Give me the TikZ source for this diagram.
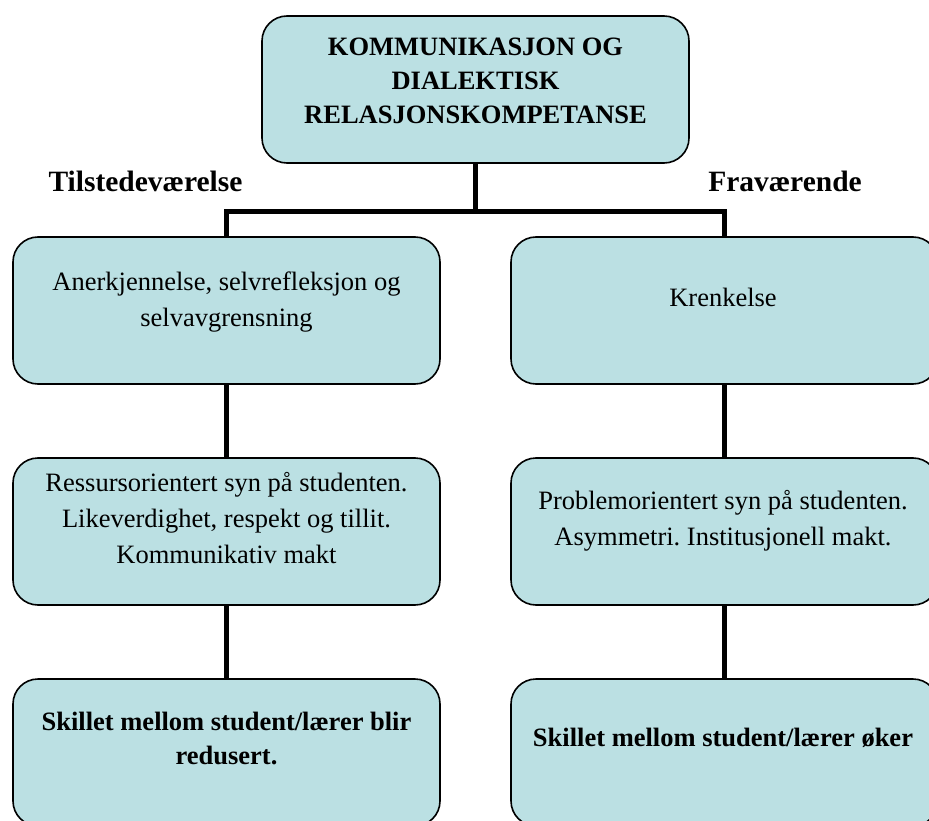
\documentclass[tikz,border=0pt]{standalone}
\usepackage{fontspec}
\setmainfont{Liberation Serif}
\frenchspacing
\definecolor{boxfill}{RGB}{187,224,227}
\begin{document}
\begin{tikzpicture}[x=1pt,y=-1pt,
  box/.style={draw=black, line width=1.6pt, fill=boxfill, rounded corners=25pt,
    inner sep=0pt, minimum width=427pt, minimum height=147pt},
  txt/.style={font=\fontsize{26.5}{36}\selectfont, align=center, inner sep=0pt},
  btxt/.style={font=\fontsize{26.5}{34}\selectfont\bfseries, align=center, inner sep=0pt},
  ltxt/.style={font=\fontsize{29.5}{34}\selectfont\bfseries, inner sep=0pt},
  conn/.style={line width=5pt, line join=miter}]
\useasboundingbox (0,0) rectangle (929,821);
% boxes
\node[box] (top) at (475.5,89.5) {};
\node[box] (l1) at (226.5,310.5) {};
\node[box] (l2) at (226.5,531.5) {};
\node[box] (l3) at (226.5,752.5) {};
\node[box] (r1) at (724.5,310.5) {};
\node[box] (r2) at (724.5,531.5) {};
\node[box] (r3) at (724.5,752.5) {};
% connectors
\coordinate (barL) at (226.5,212);
\coordinate (barR) at (724.5,212);
\draw[conn] (top.south) -- (top.south |- barL);
\draw[conn] (l1.north) -- (barL) -- (barR) -- (r1.north);
\draw[conn] (l1.south) -- (l2.north);
\draw[conn] (l2.south) -- (l3.north);
\draw[conn] (r1.south) -- (r2.north);
\draw[conn] (r2.south) -- (r3.north);
% texts
\node[btxt] (ttop) at (475.5,81) {KOMMUNIKASJON OG\\DIALEKTISK\\RELASJONSKOMPETANSE};
\node[ltxt] (lab1) at (145.5,181) {Tilstedeværelse};
\node[ltxt] (lab2) at (785,181) {Fraværende};
\node[txt] (tl1) at (226.5,302.5) {Anerkjennelse, selvrefleksjon og\\selvavgrensning};
\node[txt] (tr1) at (723,297) {Krenkelse};
\node[txt] (tl2) at (226.5,518) {Ressursorientert syn på studenten.\\Likeverdighet, respekt og tillit.\\Kommunikativ makt};
\node[txt] (tr2) at (723,521) {Problemorientert syn på studenten.\\Asymmetri. Institusjonell makt.};
\node[btxt] (tl3) at (226.5,738.5) {Skillet mellom student/lærer blir\\redusert.};
\node[btxt] (tr3) at (723,738) {Skillet mellom student/lærer øker};
\end{tikzpicture}
\end{document}
